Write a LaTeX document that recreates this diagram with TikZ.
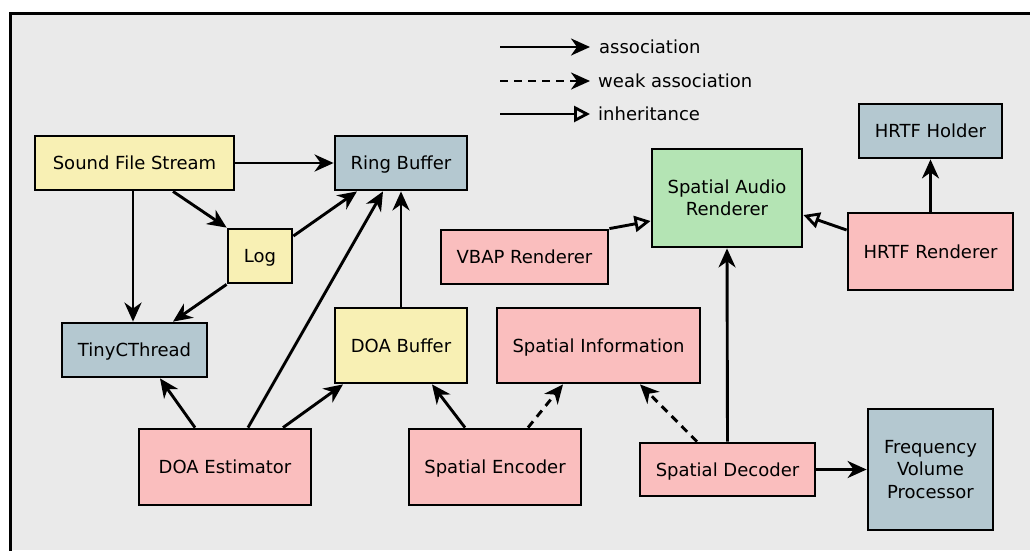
\documentclass[tikz,border=0pt]{standalone}
\usepackage{fontspec}
\setmainfont{DejaVu Sans}
\usetikzlibrary{arrows.meta}

\definecolor{bgcol}{RGB}{234,234,234}
\definecolor{yelcol}{RGB}{248,240,180}
\definecolor{bluecol}{RGB}{180,200,208}
\definecolor{pinkcol}{RGB}{250,190,190}
\definecolor{greencol}{RGB}{180,228,180}

\tikzset{
  boxcore/.style={draw=black, line width=2.8pt, rectangle, inner sep=0pt,
    align=center, font=\fontsize{18}{22.5}\selectfont},
  box/.style={boxcore, text height=13pt, text depth=0pt},
  yelbox/.style={box, fill=yelcol},
  bluebox/.style={box, fill=bluecol},
  pinkbox/.style={box, fill=pinkcol},
  tallbluebox/.style={boxcore, fill=bluecol},
  greenbox/.style={boxcore, fill=greencol},
  assoc/.style={line width=2.9pt, -{Stealth[length=19pt, width=17pt, inset=6pt]}},
  weak/.style={assoc, dash pattern=on 8pt off 6pt},
  inherit/.style={line width=2.9pt, -{Triangle[open, length=16pt, width=16pt, line width=2.8pt]}},
  legendtext/.style={anchor=west, inner sep=0pt, font=\fontsize{18}{22.5}\selectfont},
}

\begin{document}
\begin{tikzpicture}[x=1pt, y=-1pt]
  \useasboundingbox (0,0) rectangle (1030,550);
  % canvas with its top and left border
  \fill[bgcol] (10,13) rectangle (1030,550);
  \draw[line width=3pt] (10,551) -- (10,13) -- (1031,13);

  % legend
  \coordinate (la1) at (500,47);  \coordinate (lb1) at (590,47);
  \coordinate (la2) at (500,81);  \coordinate (lb2) at (590,81);
  \coordinate (la3) at (500,114); \coordinate (lb3) at (590,114);
  \draw[assoc] (la1) -- (lb1);
  \draw[weak] (la2) -- (lb2);
  \draw[inherit] (la3) -- (lb3);
  \node[legendtext] (t1) at (599,47) {association};
  \node[legendtext] (t2) at (598,81) {weak association};
  \node[legendtext] (t3) at (598,114) {inheritance};

  % classes
  \node[yelbox, minimum width=199pt, minimum height=54pt] (sfs) at (134.5,163) {Sound File Stream};
  \node[bluebox, minimum width=132pt, minimum height=54pt] (ring) at (401,163) {Ring Buffer};
  \node[yelbox, minimum width=64pt, minimum height=54pt] (log) at (260,256) {Log};
  \node[bluebox, minimum width=145pt, minimum height=54pt] (tiny) at (134.5,350) {TinyCThread};
  \node[yelbox, minimum width=132pt, minimum height=75pt] (doab) at (401,345.5) {DOA Buffer};
  \node[pinkbox, minimum width=172pt, minimum height=76pt] (doae) at (225,467) {DOA Estimator};
  \node[pinkbox, minimum width=172pt, minimum height=76pt] (senc) at (495,467) {Spatial Encoder};
  \node[pinkbox, minimum width=203pt, minimum height=75pt] (sinfo) at (598.5,345.5) {Spatial Information};
  \node[pinkbox, minimum width=175pt, minimum height=53pt] (sdec) at (727.5,469.5) {Spatial Decoder};
  \node[tallbluebox, minimum width=125pt, minimum height=121pt] (fvp) at (930.5,469.5) {Frequency\\Volume\\Processor};
  \node[pinkbox, minimum width=167pt, minimum height=54pt] (vbap) at (524.5,257) {VBAP Renderer};
  \node[greenbox, minimum width=150pt, minimum height=98pt] (sar) at (727,198) {Spatial Audio\\Renderer};
  \node[pinkbox, minimum width=165pt, minimum height=77pt] (hrtf) at (930.5,251.5) {HRTF Renderer};
  \node[bluebox, minimum width=143pt, minimum height=54pt] (hold) at (930.5,131) {HRTF Holder};

  % associations
  \draw[assoc] (sfs.east) -- (ring.west);
  \draw[assoc] ([xshift=-1.5pt]sfs.south) -- ([xshift=-1.5pt]tiny.north);
  \draw[assoc] ([xshift=38.5pt]sfs.south) -- (log.north west);
  \draw[assoc] ([yshift=20pt]log.east) -- ([xshift=-44pt]ring.south);
  \draw[assoc] (log.south west) -- ([xshift=38.5pt]tiny.north);
  \draw[assoc] ([xshift=23pt]doae.north) -- ([xshift=-18pt]ring.south);
  \draw[assoc] (doab.north) -- (ring.south);
  \draw[assoc] ([xshift=-30pt]doae.north) -- ([xshift=25.5pt]tiny.south);
  \draw[assoc] ([xshift=58pt]doae.north) -- ([xshift=-58pt]doab.south);
  \draw[assoc] ([xshift=-30pt]senc.north) -- ([xshift=31pt]doab.south);
  \draw[weak] ([xshift=33pt]senc.north) -- ([xshift=-35.5pt]sinfo.south);
  \draw[weak] ([xshift=-30.5pt]sdec.north) -- ([xshift=41.5pt]sinfo.south);
  \draw[assoc] (sdec.north) -- (sar.south);
  \draw[assoc] (sdec.east) -- (fvp.west);
  \draw[assoc] (hrtf.north) -- (hold.south);

  % inheritance
  \draw[inherit] (vbap.north east) -- ([yshift=-23pt]sar.west);
  \draw[inherit] ([yshift=21.5pt]hrtf.west) -- ([yshift=-17pt]sar.east);
\end{tikzpicture}
\end{document}
